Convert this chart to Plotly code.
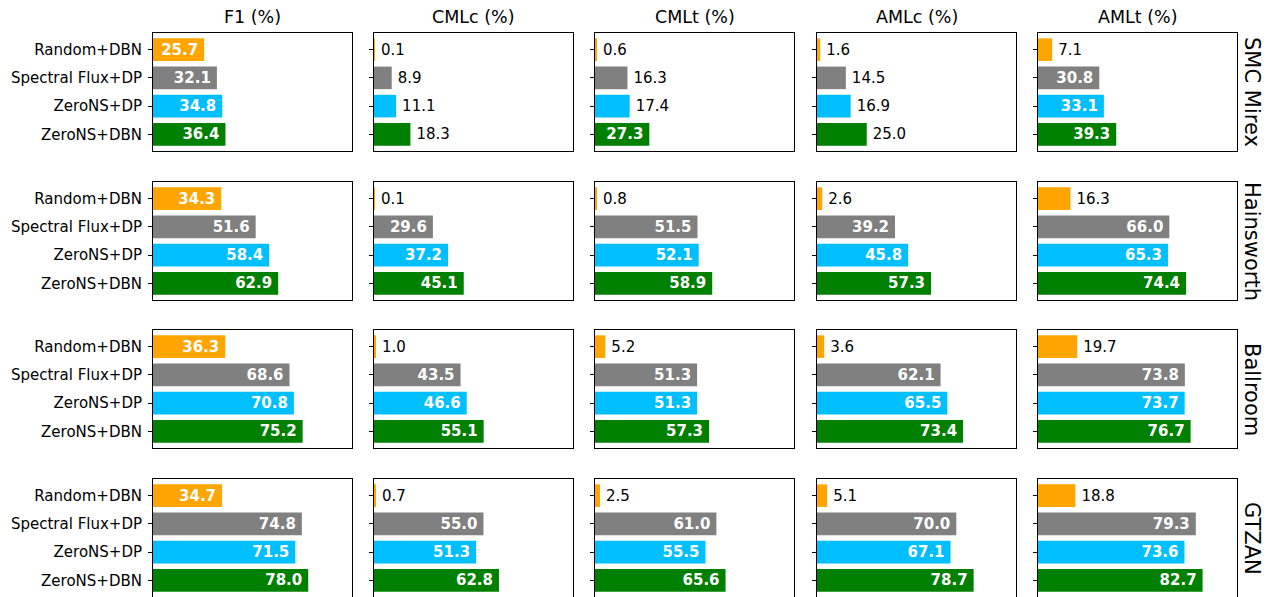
import plotly.graph_objects as go

methods = ["Random+DBN", "Spectral Flux+DP", "ZeroNS+DP", "ZeroNS+DBN"]
colors = ["#FFA500", "#808080", "#00BFFF", "#008000"]
metrics = ["F1 (%)", "CMLc (%)", "CMLt (%)", "AMLc (%)", "AMLt (%)"]
datasets = ["SMC Mirex", "Hainsworth", "Ballroom", "GTZAN"]

f1 = [[25.7, 32.1, 34.8, 36.4], [34.3, 51.6, 58.4, 62.9], [36.3, 68.6, 70.8, 75.2], [34.7, 74.8, 71.5, 78.0]]
cmlc = [[0.1, 8.9, 11.1, 18.3], [0.1, 29.6, 37.2, 45.1], [1.0, 43.5, 46.6, 55.1], [0.7, 55.0, 51.3, 62.8]]
cmlt = [[0.6, 16.3, 17.4, 27.3], [0.8, 51.5, 52.1, 58.9], [5.2, 51.3, 51.3, 57.3], [2.5, 61.0, 55.5, 65.6]]
amlc = [[1.6, 14.5, 16.9, 25.0], [2.6, 39.2, 45.8, 57.3], [3.6, 62.1, 65.5, 73.4], [5.1, 70.0, 67.1, 78.7]]
amlt = [[7.1, 30.8, 33.1, 39.3], [16.3, 66.0, 65.3, 74.4], [19.7, 73.8, 73.7, 76.7], [18.8, 79.3, 73.6, 82.7]]
values = [f1, cmlc, cmlt, amlc, amlt]  # [metric][dataset][method]

W, H = 1271, 597
col_left = [153, 374, 595, 817, 1038]
panel_w = 199
row_top = [33, 182, 330, 479]
panel_h = 118
FONT = "DejaVu Sans"

fig = go.Figure()
layout = {}
idx = 0
for r, ds in enumerate(datasets):
    for c, met in enumerate(metrics):
        idx += 1
        sfx = "" if idx == 1 else str(idx)
        vals = values[c][r]
        inside = [v > 25 for v in vals]
        texts = [f"{v:.1f}\u2009" if ins else f"\u2009{v:.1f}" for v, ins in zip(vals, inside)]
        fig.add_trace(go.Bar(
            x=vals, y=methods, orientation="h",
            marker=dict(color=colors, line=dict(width=0)),
            width=0.8,
            text=texts,
            textposition=["inside" if ins else "outside" for ins in inside],
            insidetextanchor="end",
            insidetextfont=dict(family=FONT, size=15, color="white", weight="bold"),
            outsidetextfont=dict(family=FONT, size=15, color="black"),
            constraintext="none",
            cliponaxis=False,
            xaxis="x" + sfx, yaxis="y" + sfx,
            showlegend=False, hoverinfo="skip",
        ))
        x0 = col_left[c] / W
        x1 = (col_left[c] + panel_w) / W
        y1 = 1 - row_top[r] / H
        y0 = max(0.0, 1 - (row_top[r] + panel_h) / H)
        layout["xaxis" + sfx] = dict(
            domain=[x0, x1], range=[0, 100], anchor="y" + sfx,
            showticklabels=False, ticks="", showgrid=False, zeroline=False,
            showline=True, mirror=True, linecolor="black", linewidth=1,
        )
        layout["yaxis" + sfx] = dict(
            domain=[y0, y1], anchor="x" + sfx,
            type="category", categoryorder="array", categoryarray=methods,
            range=[3.59, -0.59],
            showticklabels=(c == 0), ticks="outside", ticklen=4, tickwidth=1,
            tickcolor="black", ticklabelstandoff=3,
            tickfont=dict(family=FONT, size=15, color="black"),
            showgrid=False, zeroline=False,
            showline=True, mirror=True, linecolor="black", linewidth=1,
        )

annotations = []
for c, met in enumerate(metrics):
    annotations.append(dict(
        text=met, x=(col_left[c] + panel_w / 2) / W, y=1 - 17 / H,
        xref="paper", yref="paper", xanchor="center", yanchor="middle",
        showarrow=False, font=dict(family=FONT, size=17.5, color="black"),
    ))
for r, ds in enumerate(datasets):
    annotations.append(dict(
        text=ds, x=1252 / W, y=1 - (row_top[r] + panel_h / 2) / H,
        xref="paper", yref="paper", xanchor="center", yanchor="middle",
        textangle=90, showarrow=False,
        font=dict(family=FONT, size=21, color="black"),
    ))

fig.update_layout(
    width=W, height=H,
    margin=dict(l=0, r=0, t=0, b=0),
    paper_bgcolor="white", plot_bgcolor="white",
    font=dict(family=FONT, size=15, color="black"),
    barmode="overlay",
    annotations=annotations,
    **layout,
)

fig.write_html(
    "out.html",
    config={"displayModeBar": False},
    post_script="document.body.style.margin='0';document.body.style.overflow='hidden';",
)
